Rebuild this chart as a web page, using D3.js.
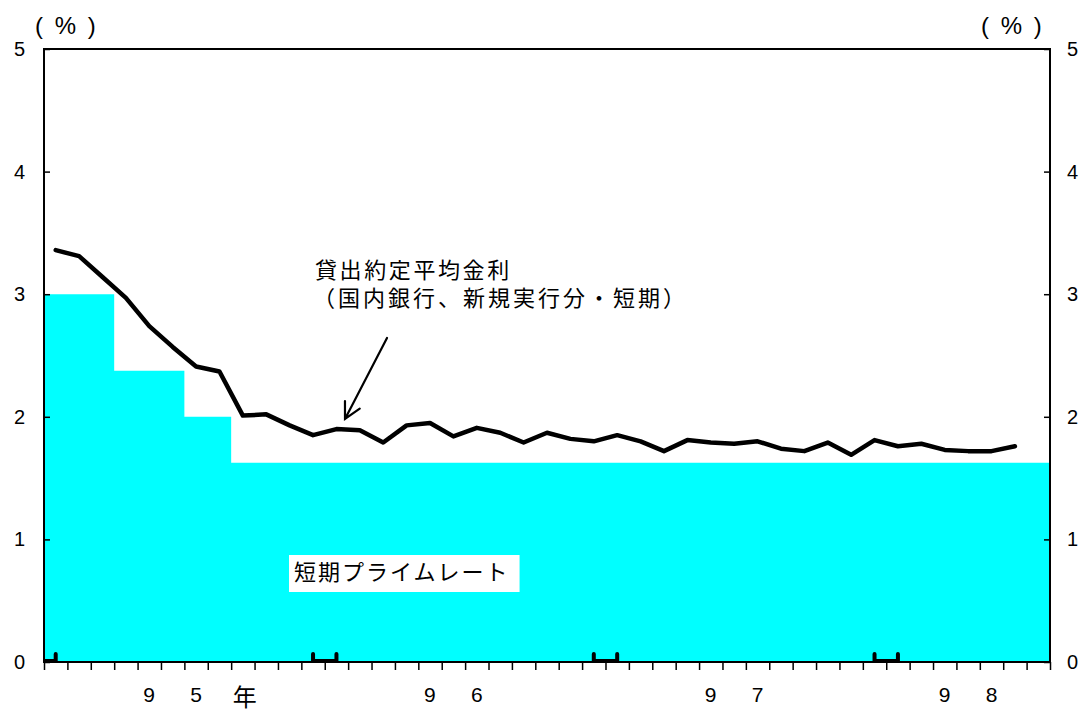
<!DOCTYPE html>
<html><head><meta charset="utf-8">
<script src="https://cdn.jsdelivr.net/npm/d3@7"></script>
<style>
html,body{margin:0;padding:0;background:#fff;}
svg{display:block;}
</style></head>
<body>
<svg id="c" width="1083" height="709"></svg>
<script>
// ---- data ----
const monthCount = 43; // Jan 1995 .. Jul 1998
const primeRate = [3.0,3.0,3.0,2.375,2.375,2.375,2.0,2.0,
  1.625,1.625,1.625,1.625,1.625,1.625,1.625,1.625,1.625,1.625,1.625,1.625,1.625,1.625,1.625,1.625,
  1.625,1.625,1.625,1.625,1.625,1.625,1.625,1.625,1.625,1.625,1.625,1.625,1.625,1.625,1.625,1.625,
  1.625,1.625,1.625];
const lendingRate = [3.36,3.31,3.14,2.97,2.74,2.57,2.41,2.37,2.01,2.02,1.93,1.85,
  1.90,1.89,1.79,1.93,1.95,1.84,1.91,1.87,1.79,1.87,1.82,1.80,
  1.85,1.80,1.72,1.81,1.79,1.78,1.80,1.74,1.72,1.79,1.69,1.81,
  1.76,1.78,1.73,1.72,1.72,1.76];
const yTicks = [0,1,2,3,4,5];
const yearMarks = [0,12,24,36];
const yearLabels = [
  {a:"9", b:"5", m:5, suffix:"年"},
  {a:"9", b:"6", m:17, suffix:""},
  {a:"9", b:"7", m:29, suffix:""},
  {a:"9", b:"8", m:39, suffix:""}
];
const lineLabel1 = "貸出約定平均金利";
const lineLabel2 = "（国内銀行、新規実行分・短期）";
const areaLabel = "短期プライムレート";
const unitLabel = "( % )";

// ---- layout ----
const svg = d3.select("#c");
const L = 44, R = 1050, T = 49, B = 662;
const x = d3.scaleLinear().domain([0, monthCount]).range([L, R]);
const y = d3.scaleLinear().domain([0, 5]).range([B, T]);
const numFont = "'Liberation Sans', Arial, sans-serif";
const jpFont = "'Noto Sans CJK JP', 'Noto Sans', sans-serif";

svg.append("defs").append("clipPath").attr("id","plotclip")
  .append("rect").attr("x",L).attr("y",T).attr("width",R-L).attr("height",B-T);

// prime rate area (step)
const areaData = primeRate.map((v,i)=>({i, v})).concat([{i: monthCount, v: primeRate[primeRate.length-1]}]);
svg.append("path")
  .datum(areaData)
  .attr("fill", "#00ffff")
  .attr("d", d3.area().curve(d3.curveStepAfter).x(d=>x(d.i)).y0(y(0)).y1(d=>y(d.v)));

// year boundary brackets
const bw = (x(1)-x(0))/2;
svg.append("g").attr("clip-path","url(#plotclip)")
  .selectAll("path").data(yearMarks).join("path")
  .attr("fill","none").attr("stroke","#000").attr("stroke-width",4)
  .attr("stroke-linecap","round").attr("stroke-linejoin","miter")
  .attr("d", m => `M${x(m)-bw},${B-8}V${B-1}H${x(m)+bw}V${B-8}`);

// lending rate line
svg.append("path")
  .datum(lendingRate)
  .attr("fill","none").attr("stroke","#000").attr("stroke-width",4.5)
  .attr("stroke-linejoin","round").attr("stroke-linecap","round")
  .attr("d", d3.line().x((d,i)=>x(i+0.5)).y(d=>y(d)));

// axes
const ax = svg.append("g").attr("font-family", numFont);
const left = ax.append("g").attr("transform",`translate(${L},0)`)
  .call(d3.axisLeft(y).tickValues(yTicks).tickSize(-6).tickPadding(19).tickFormat(d3.format("d")));
const right = ax.append("g").attr("transform",`translate(${R},0)`)
  .call(d3.axisRight(y).tickValues(yTicks).tickSize(-6).tickPadding(17).tickFormat(d3.format("d")));
const bottom = ax.append("g").attr("transform",`translate(0,${B})`)
  .call(d3.axisBottom(x).tickValues(d3.range(0, monthCount+1)).tickSize(8).tickFormat(""));
[left,right,bottom].forEach(g=>{
  g.select(".domain").remove();
  g.selectAll(".tick line").attr("stroke","#000").attr("stroke-width",1.5);
  g.selectAll(".tick text").attr("font-size",20).attr("fill","#000").attr("font-family",numFont);
});
// frame
svg.append("rect").attr("x",L).attr("y",T).attr("width",R-L).attr("height",B-T)
  .attr("fill","none").attr("stroke","#000").attr("stroke-width",2);

// unit labels
svg.append("text").attr("x",35).attr("y",34).attr("font-family",numFont).attr("font-size",24)
  .attr("letter-spacing",2.5).text(unitLabel);
svg.append("text").attr("x",981).attr("y",34).attr("font-family",numFont).attr("font-size",24)
  .attr("letter-spacing",2.5).text(unitLabel);

// year labels
const yl = svg.append("g").attr("font-family",numFont).attr("font-size",21).attr("fill","#000");
yearLabels.forEach(d=>{
  const cx = x(d.m+0.5);
  yl.append("text").attr("x",cx-23.5).attr("y",702).attr("text-anchor","middle").text(d.a);
  yl.append("text").attr("x",cx+23.5).attr("y",702).attr("text-anchor","middle").text(d.b);
  if (d.suffix) yl.append("text").attr("x",cx+72).attr("y",706).attr("text-anchor","middle")
    .attr("font-family",jpFont).attr("font-size",24).text(d.suffix);
});

// line label
svg.append("text").attr("x",315).attr("y",278).attr("font-family",jpFont).attr("font-size",22)
  .attr("letter-spacing",2.6).text(lineLabel1);
svg.append("text").attr("x",313).attr("y",306).attr("font-family",jpFont).attr("font-size",22)
  .attr("letter-spacing",3).text(lineLabel2);

// arrow
const ax0 = 387, ay0 = 338, ax1 = 345, ay1 = 419;
const ang = Math.atan2(ay0-ay1, ax0-ax1);
const hl = 18, ha = 0.48;
svg.append("path").attr("fill","none").attr("stroke","#000").attr("stroke-width",2.2)
  .attr("stroke-linecap","round")
  .attr("d", `M${ax0},${ay0}L${ax1},${ay1}` +
    `M${ax1+hl*Math.cos(ang+ha)},${ay1+hl*Math.sin(ang+ha)}L${ax1},${ay1}L${ax1+hl*Math.cos(ang-ha)},${ay1+hl*Math.sin(ang-ha)}`);

// area label with white box
const boxG = svg.append("g");
const rect = boxG.append("rect").attr("fill","#fff");
const at = boxG.append("text").attr("x",294).attr("y",580).attr("font-family",jpFont).attr("font-size",22)
  .attr("letter-spacing",2).text(areaLabel);
const bb = at.node().getBBox();
rect.attr("x",289).attr("y",555).attr("width",bb.x+bb.width+10-289).attr("height",37);
</script>
</body></html>
